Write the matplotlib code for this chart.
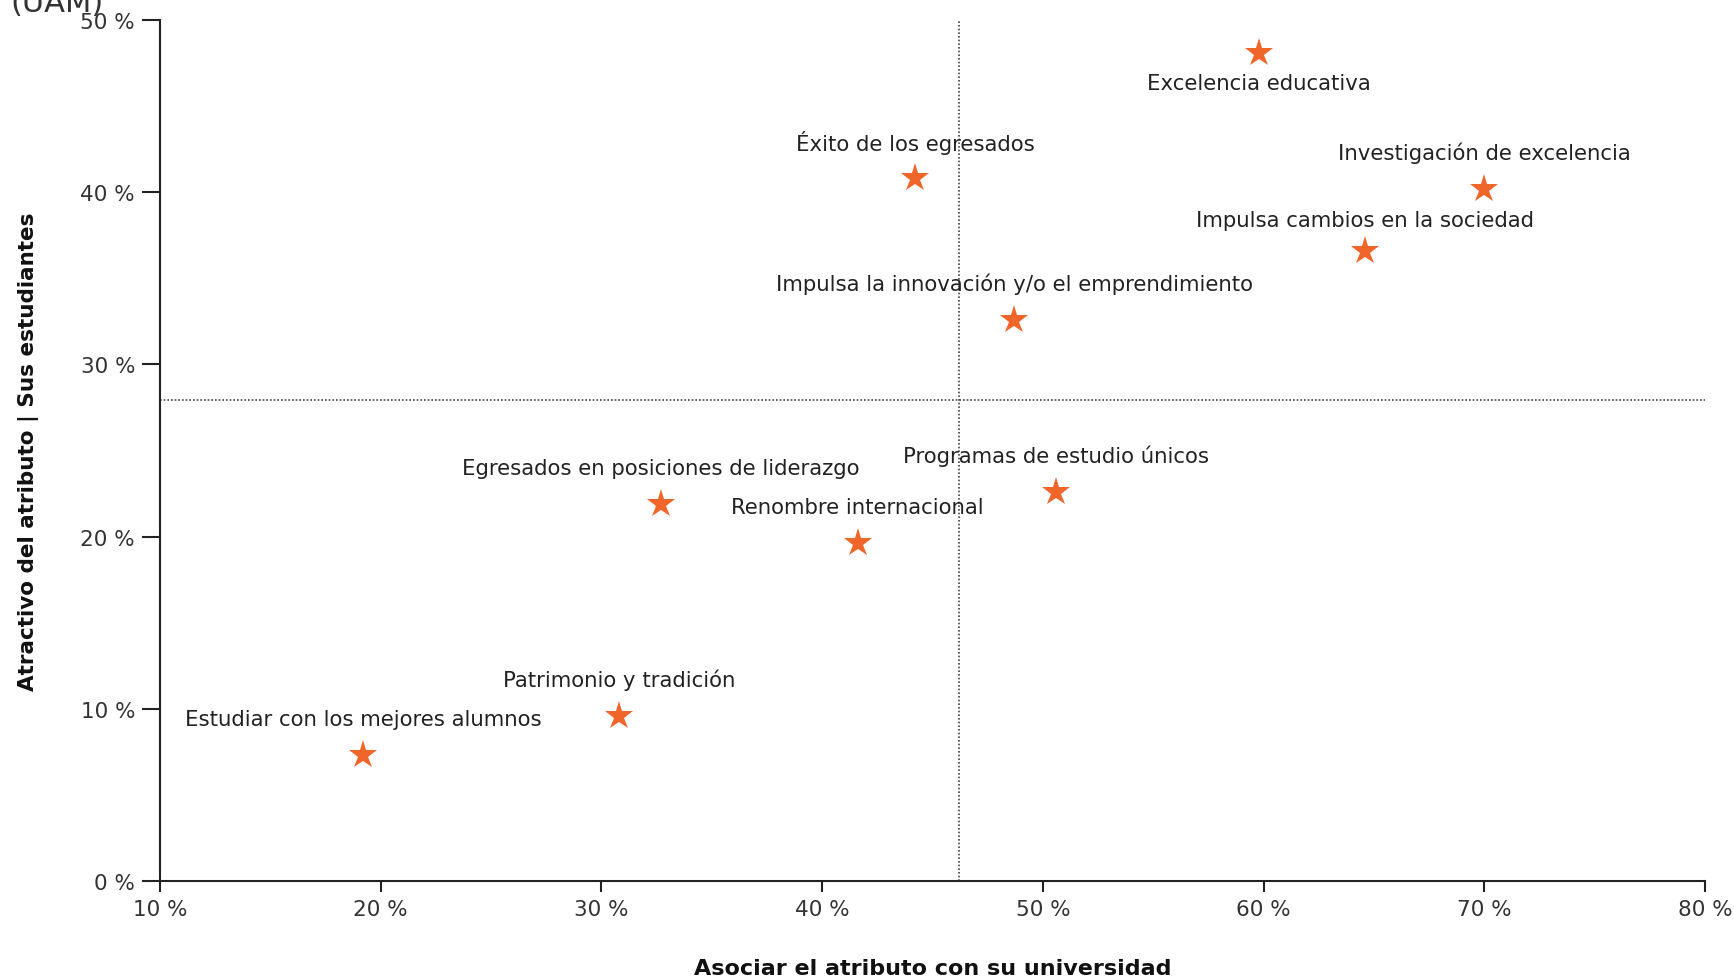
import numpy as np
import matplotlib
matplotlib.use('Agg')
import matplotlib.pyplot as plt
from matplotlib.ticker import FuncFormatter

attributes = ['Estudiar con los mejores alumnos', 'Patrimonio y tradición',
              'Egresados en posiciones de liderazgo', 'Renombre internacional',
              'Programas de estudio únicos', 'Impulsa la innovación y/o el emprendimiento',
              'Éxito de los egresados', 'Excelencia educativa',
              'Investigación de excelencia', 'Impulsa cambios en la sociedad']
asociar = [19.2, 30.8, 32.7, 41.6, 50.6, 48.7, 44.2, 59.8, 70.0, 64.6]
atractivo = [7.3, 9.6, 21.9, 19.6, 22.6, 32.6, 40.8, 48.1, 40.2, 36.6]
label_side = ['above'] * 7 + ['below'] + ['above'] * 2

star_colour = '#F0652A'
text_colour = '#222222'

plt.rcParams['font.family'] = ['DejaVu Sans']

fig = plt.figure(figsize=(17.34, 9.78), dpi=100)
ax = fig.add_axes([0.0923, 0.0982, 0.891, 0.8803])

# dotted lines at the averages
x_mean = np.mean(asociar)
y_mean = np.mean(atractivo)
ax.axvline(x_mean, color='#444444', linestyle=(0, (1, 1.2)), linewidth=1.2, zorder=1)
ax.axhline(y_mean, color='#444444', linestyle=(0, (1, 1.2)), linewidth=1.2, zorder=1)

ax.plot(asociar, atractivo, linestyle='none', marker='*', markersize=21,
        color=star_colour, markeredgewidth=0, zorder=3)

for name, x, y, side in zip(attributes, asociar, atractivo, label_side):
    dy = 26 if side == 'above' else -22
    if name == 'Impulsa cambios en la sociedad':
        dy = 22
    ax.annotate(name, (x, y), xytext=(0, dy), textcoords='offset points',
                ha='center', va='center', fontsize=15.3, color=text_colour)

ax.set_xlim(10, 80)
ax.set_ylim(0, 50)
ax.set_xticks(np.arange(10, 81, 10))
ax.set_yticks(np.arange(0, 51, 10))
pct = FuncFormatter(lambda v, p: f'{v:.0f} %')
ax.xaxis.set_major_formatter(pct)
ax.yaxis.set_major_formatter(pct)

for s in ['top', 'right']:
    ax.spines[s].set_visible(False)
for s in ['left', 'bottom']:
    ax.spines[s].set_linewidth(1.5)
    ax.spines[s].set_color('#222222')

ax.tick_params(axis='y', length=13, width=1.5, pad=5, labelsize=15.5, colors='#222222', labelcolor='#333333')
ax.tick_params(axis='x', length=8, width=1.5, pad=5, labelsize=15.5, colors='#222222', labelcolor='#333333')

ax.set_xlabel('Asociar el atributo con su universidad', fontsize=16, fontweight='bold',
              color='#111111', labelpad=28)
ax.set_ylabel('Atractivo del atributo | Sus estudiantes', fontsize=15.5, fontweight='bold',
              color='#111111', labelpad=30)

fig.text(0.006, 0.988, '(UAM)', fontsize=22, color='#333333', ha='left', va='baseline')

fig.savefig('out.png', dpi=100)
